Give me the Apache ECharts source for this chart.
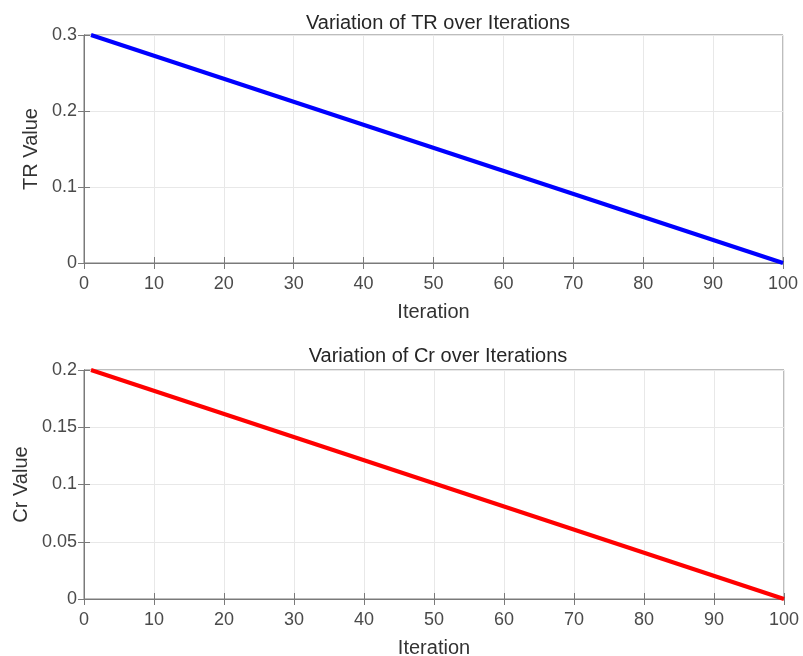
<!DOCTYPE html>
<html>
<head>
<meta charset="utf-8">
<script src="https://cdn.jsdelivr.net/npm/echarts@6/dist/echarts.min.js"></script>
<style>
html, body { margin: 0; padding: 0; background: #fff; }
#chart { width: 803px; height: 656px; }
</style>
</head>
<body>
<div id="chart"></div>
<script>
// 数据：起点和终点（线性下降）
var iterations = [1, 100];
var trValues = [0.3, 0];
var crValues = [0.2, 0];

var axisColor = '#7a7a7a';
var textColor = '#4a4a4a';
var font = 'Liberation Sans, Arial, sans-serif';

function pairs(xs, ys) {
    return xs.map(function (x, i) { return [x, ys[i]]; });
}

// 一个子图需要的四根轴（下、上、左、右），仿 MATLAB 的 box on
function xAxes(gridIndex) {
    return [
        {
            type: 'value', gridIndex: gridIndex, min: 0, max: 100, interval: 10,
            name: 'Iteration', nameLocation: 'middle', nameGap: 39,
            nameTextStyle: { color: '#333', fontSize: 20, fontFamily: font },
            axisLine: { lineStyle: { color: axisColor } },
            axisTick: { inside: true, length: 6, lineStyle: { color: axisColor } },
            axisLabel: { color: textColor, fontSize: 18, fontFamily: font, margin: 12 },
            splitLine: { show: true, lineStyle: { color: '#e8e8e8' } }
        },
        {
            type: 'value', gridIndex: gridIndex, min: 0, max: 100, interval: 10, position: 'top',
            axisLine: { show: true, lineStyle: { color: axisColor } },
            axisTick: { show: true, inside: true, length: 6, lineStyle: { color: axisColor } },
            axisLabel: { show: false },
            splitLine: { show: false }
        }
    ];
}

function yAxes(gridIndex, name, max, interval) {
    return [
        {
            type: 'value', gridIndex: gridIndex, min: 0, max: max, interval: interval,
            name: name, nameLocation: 'middle', nameGap: 40,
            nameTextStyle: { color: '#333', fontSize: 20, fontFamily: font },
            axisLine: { show: true, lineStyle: { color: axisColor } },
            axisTick: { show: true, inside: true, length: 6, lineStyle: { color: axisColor } },
            axisLabel: { color: textColor, fontSize: 18, fontFamily: font, margin: 7 },
            splitLine: { show: true, lineStyle: { color: '#e8e8e8' } }
        },
        {
            type: 'value', gridIndex: gridIndex, min: 0, max: max, interval: interval, position: 'right',
            axisLine: { show: true, lineStyle: { color: axisColor } },
            axisTick: { show: true, inside: true, length: 6, lineStyle: { color: axisColor } },
            axisLabel: { show: false },
            splitLine: { show: false }
        }
    ];
}

var myChart = echarts.init(document.getElementById('chart'));
myChart.setOption({
    backgroundColor: '#fff',
    animation: false,
    title: [
        {
            text: 'Variation of TR over Iterations', left: 433, top: 8, textAlign: 'center',
            textStyle: { color: '#262626', fontSize: 20, fontWeight: 'normal', fontFamily: font }
        },
        {
            text: 'Variation of Cr over Iterations', left: 433, top: 341, textAlign: 'center',
            textStyle: { color: '#262626', fontSize: 20, fontWeight: 'normal', fontFamily: font }
        }
    ],
    grid: [
        { left: 84, right: 20, top: 35, height: 228, show: true, borderColor: axisColor, borderWidth: 1, outerBoundsMode: 'none' },
        { left: 84, right: 19, top: 370, height: 229, show: true, borderColor: axisColor, borderWidth: 1, outerBoundsMode: 'none' }
    ],
    xAxis: xAxes(0).concat(xAxes(1)),
    yAxis: yAxes(0, 'TR Value', 0.3, 0.1).concat(yAxes(1, 'Cr Value', 0.2, 0.05)),
    series: [
        {
            name: 'TR', type: 'line', xAxisIndex: 0, yAxisIndex: 0,
            data: pairs(iterations, trValues), showSymbol: false,
            lineStyle: { color: '#0000ff', width: 4 }, z: 5
        },
        {
            name: 'Cr', type: 'line', xAxisIndex: 2, yAxisIndex: 2,
            data: pairs(iterations, crValues), showSymbol: false,
            lineStyle: { color: '#ff0000', width: 4 }, z: 5
        },
        // 空系列，让上、右两根镜像轴也画出来
        { type: 'line', xAxisIndex: 1, yAxisIndex: 1, data: [] },
        { type: 'line', xAxisIndex: 3, yAxisIndex: 3, data: [] }
    ]
});
</script>
</body>
</html>
